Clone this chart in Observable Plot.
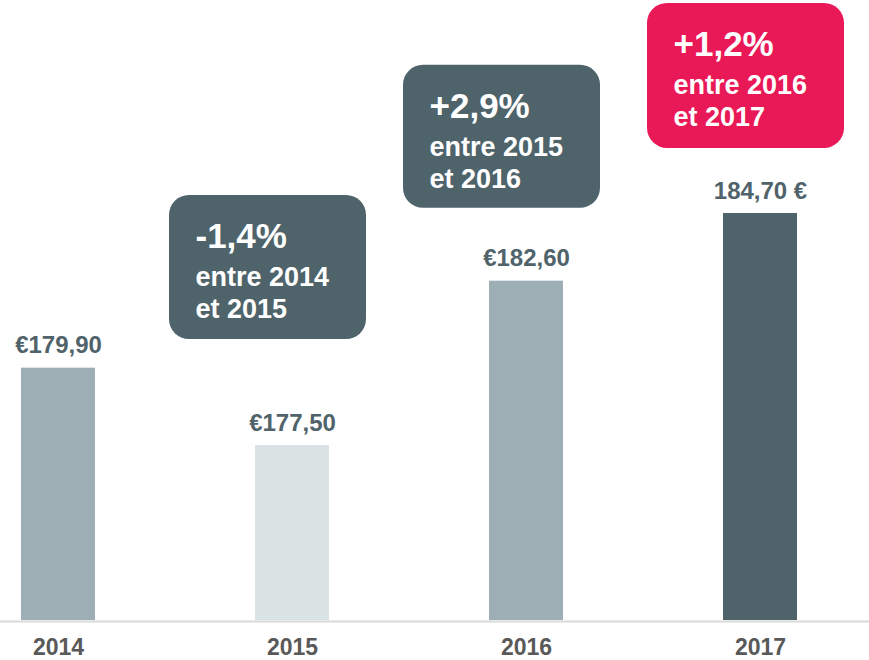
<!DOCTYPE html>
<html><head><meta charset="utf-8">
<script src="https://cdn.jsdelivr.net/npm/d3@7"></script>
<script src="https://cdn.jsdelivr.net/npm/@observablehq/plot@0.6"></script>
<style>
body{margin:0;background:#fff;}
#chart svg{display:block;}
</style></head><body><div id="chart"></div>
<script>
// ---- data ----
const years = ["2014", "2015", "2016", "2017"];
const prices = [179.90, 177.50, 182.60, 184.70];
const priceLabels = ["€179,90", "€177,50", "€182,60", "184,70 €"];
const barColors = ["#9dafb4", "#dbe4e4", "#9dafb4", "#4f636b"];

const changeYears = ["2015", "2016", "2017"];
const changePct = ["-1,4%", "+2,9%", "+1,2%"];
const changeText = ["entre 2014\net 2015", "entre 2015\net 2016", "entre 2016\net 2017"];
const changeColors = ["#4f636b", "#4f636b", "#e91856"];

const bars = years.map((year, i) => ({year, price: prices[i], label: priceLabels[i], color: barColors[i]}));
const notes = changeYears.map((year, i) => ({year, pct: changePct[i], text: changeText[i], color: changeColors[i]}));

// ---- layout ----
const yDomain = [172.07, 191.31];
const boxTop = [185.26, 189.30, 191.22];
const boxBottom = [180.79, 184.86, 186.72];
const boxShift = [1, 1, 11];
const font = "'Liberation Sans', Arial, Helvetica, sans-serif";

const marks = [
  Plot.ruleY([yDomain[0]], {stroke: "#d9d9d9", strokeWidth: 2, dy: 1}),
  Plot.barY(bars, {x: "year", y1: yDomain[0], y2: "price", fill: "color"}),
  Plot.text(bars, {x: "year", y: "price", text: "label", dy: -15, lineAnchor: "bottom",
    fill: "#50636b", fontSize: 24, fontWeight: "bold"}),
  Plot.axisX({tickSize: 0, tickPadding: 18, fontSize: 23, fontWeight: "bold", color: "#595959", label: null})
];
notes.forEach((n, i) => {
  const d = [{...n, top: boxTop[i], bottom: boxBottom[i]}];
  marks.push(Plot.barY(d, {x: "year", y1: "bottom", y2: "top", fill: "color", rx: 20,
    insetLeft: -87 + boxShift[i], insetRight: -36 - boxShift[i]}));
  marks.push(Plot.text(d, {x: "year", y: "top", text: "pct", textAnchor: "start", lineAnchor: "bottom",
    dx: -98 + boxShift[i], dy: 53, fill: "white", fontSize: 35, fontWeight: "bold"}));
  marks.push(Plot.text(d, {x: "year", y: "top", text: "text", textAnchor: "start", lineAnchor: "bottom",
    dx: -98 + boxShift[i], dy: 123, fill: "white", fontSize: 27, fontWeight: "bold", lineHeight: 1.185}));
});

const chart = Plot.plot({
  width: 869, height: 660,
  marginTop: 0, marginBottom: 40, marginLeft: 0, marginRight: 0,
  x: {type: "band", domain: years, range: [19, 798], paddingInner: 0.685, paddingOuter: 0},
  y: {domain: yDomain, axis: null},
  color: {type: "identity"},
  style: {fontFamily: font, background: "white", overflow: "visible"},
  marks
});
document.getElementById("chart").appendChild(chart);
</script>
</body></html>
